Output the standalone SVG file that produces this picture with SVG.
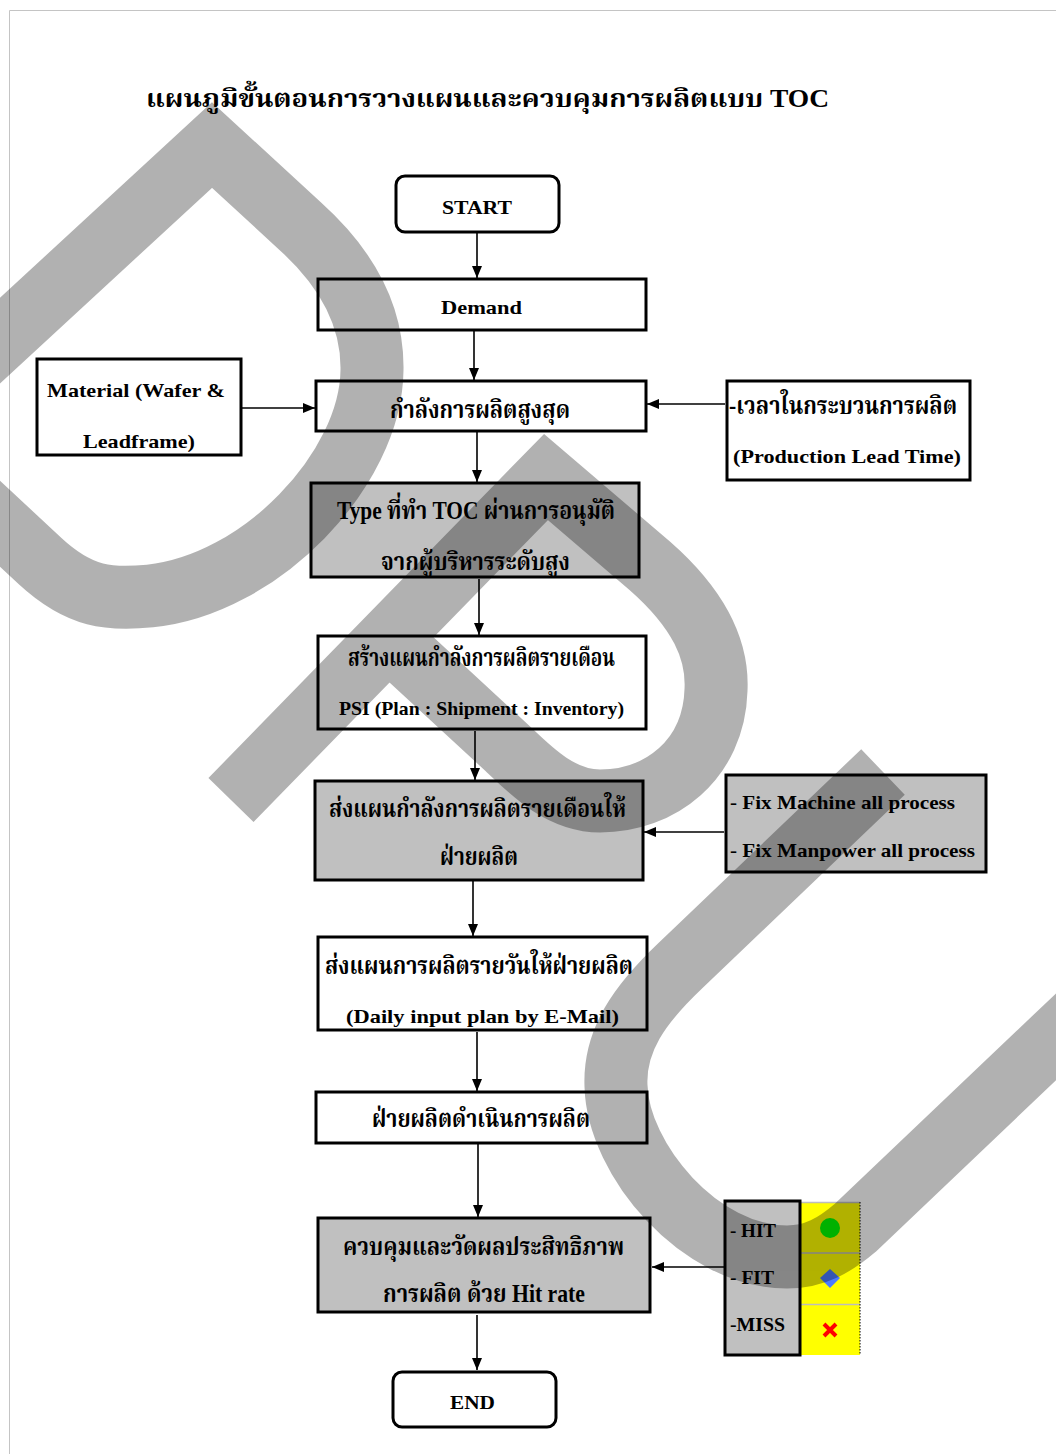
<svg xmlns="http://www.w3.org/2000/svg" width="1056" height="1454" viewBox="0 0 1056 1454">
<style>
.box{fill:#fff;stroke:#000;stroke-width:3}
.gbox{fill:#c0c0c0;stroke:#000;stroke-width:3}
.conn{stroke:#000;stroke-width:1.6;fill:none}
.lt{font-family:"Liberation Serif","Times New Roman",serif;font-weight:bold;font-size:19px;fill:#000}
.th{font-family:"Liberation Serif","Noto Serif Thai","Noto Sans Thai",serif;font-weight:bold;font-size:25px;fill:#000}
.wm{fill:none;stroke:#000;stroke-width:63;stroke-linejoin:miter;stroke-miterlimit:10}
</style>
<defs>
<marker id="ah" viewBox="0 0 12 10" refX="12" refY="5" markerWidth="12" markerHeight="10" markerUnits="userSpaceOnUse" orient="auto">
<path d="M0,0 L12,5 L0,10 z" fill="#000"/>
</marker>
</defs>
<rect x="0" y="0" width="1056" height="1454" fill="#fff"/>
<path d="M9.5,1454 V10.5 H1056" fill="none" stroke="#c4c4c4" stroke-width="1"/>

<text id="title" class="th" x="146" y="107" font-size="31" textLength="683" lengthAdjust="spacingAndGlyphs">แผนภูมิขั้นตอนการวางแผนและควบคุมการผลิตแบบ TOC</text>

<g id="connectors">
<line class="conn" x1="477" y1="233" x2="477" y2="278" marker-end="url(#ah)"/>
<line class="conn" x1="474" y1="331" x2="474" y2="380" marker-end="url(#ah)"/>
<line class="conn" x1="242" y1="408" x2="315" y2="408" marker-end="url(#ah)"/>
<line class="conn" x1="725" y1="404" x2="647" y2="404" marker-end="url(#ah)"/>
<line class="conn" x1="477" y1="432" x2="477" y2="482" marker-end="url(#ah)"/>
<line class="conn" x1="479" y1="579" x2="479" y2="635" marker-end="url(#ah)"/>
<line class="conn" x1="475" y1="731" x2="475" y2="780" marker-end="url(#ah)"/>
<line class="conn" x1="724" y1="832" x2="644" y2="832" marker-end="url(#ah)"/>
<line class="conn" x1="473" y1="881" x2="473" y2="936" marker-end="url(#ah)"/>
<line class="conn" x1="477" y1="1032" x2="477" y2="1091" marker-end="url(#ah)"/>
<line class="conn" x1="478" y1="1144" x2="478" y2="1217" marker-end="url(#ah)"/>
<line class="conn" x1="740" y1="1267" x2="652" y2="1267" marker-end="url(#ah)"/>
<line class="conn" x1="477" y1="1315" x2="477" y2="1370" marker-end="url(#ah)"/>
</g>

<g id="start">
<rect class="box" x="396" y="176" width="163" height="56" rx="9"/>
<text class="lt" x="442" y="214" textLength="70" lengthAdjust="spacingAndGlyphs">START</text>
</g>
<g id="demand">
<rect class="box" x="318" y="279" width="328" height="51"/>
<text class="lt" x="441" y="314" textLength="81" lengthAdjust="spacingAndGlyphs">Demand</text>
</g>
<g id="material">
<rect class="box" x="37" y="359" width="204" height="96"/>
<text class="lt" x="47" y="397" textLength="178" lengthAdjust="spacingAndGlyphs">Material (Wafer &amp;</text>
<text class="lt" x="83" y="448" textLength="112" lengthAdjust="spacingAndGlyphs">Leadframe)</text>
</g>
<g id="max-capacity">
<rect class="box" x="316" y="381" width="330" height="50"/>
<text class="th" x="390" y="418" textLength="180" lengthAdjust="spacingAndGlyphs">กำลังการผลิตสูงสุด</text>
</g>
<g id="lead-time">
<rect class="box" x="727" y="381" width="243" height="99"/>
<text class="th" x="729" y="414" textLength="228" lengthAdjust="spacingAndGlyphs">-เวลาในกระบวนการผลิต</text>
<text class="lt" x="733" y="463" textLength="228" lengthAdjust="spacingAndGlyphs">(Production Lead Time)</text>
</g>
<g id="type-approved">
<rect class="gbox" x="311" y="483" width="328" height="94"/>
<text class="th" x="337" y="519" textLength="278" lengthAdjust="spacingAndGlyphs">Type ที่ทำ TOC ผ่านการอนุมัติ</text>
<text class="th" x="381" y="570" textLength="189" lengthAdjust="spacingAndGlyphs">จากผู้บริหารระดับสูง</text>
</g>
<g id="monthly-plan">
<rect class="box" x="318" y="636" width="328" height="93"/>
<text class="th" x="348" y="666" textLength="267" lengthAdjust="spacingAndGlyphs">สร้างแผนกำลังการผลิตรายเดือน</text>
<text class="lt" x="339" y="715" font-size="17" textLength="285" lengthAdjust="spacingAndGlyphs">PSI (Plan : Shipment : Inventory)</text>
</g>
<g id="send-monthly">
<rect class="gbox" x="315" y="781" width="328" height="99"/>
<text class="th" x="329" y="817" textLength="297" lengthAdjust="spacingAndGlyphs">ส่งแผนกำลังการผลิตรายเดือนให้</text>
<text class="th" x="440" y="865" textLength="78" lengthAdjust="spacingAndGlyphs">ฝ่ายผลิต</text>
</g>
<g id="fix">
<rect class="gbox" x="726" y="775" width="260" height="97"/>
<text class="lt" x="730" y="809" textLength="225" lengthAdjust="spacingAndGlyphs">- Fix Machine all process</text>
<text class="lt" x="730" y="857" textLength="245" lengthAdjust="spacingAndGlyphs">- Fix Manpower all process</text>
</g>
<g id="daily-plan">
<rect class="box" x="318" y="937" width="329" height="93"/>
<text class="th" x="325" y="974" textLength="308" lengthAdjust="spacingAndGlyphs">ส่งแผนการผลิตรายวันให้ฝ่ายผลิต</text>
<text class="lt" x="346" y="1023" textLength="273" lengthAdjust="spacingAndGlyphs">(Daily input plan by E-Mail)</text>
</g>
<g id="produce">
<rect class="box" x="316" y="1092" width="331" height="51"/>
<text class="th" x="372" y="1127" textLength="218" lengthAdjust="spacingAndGlyphs">ฝ่ายผลิตดำเนินการผลิต</text>
</g>
<g id="control">
<rect class="gbox" x="318" y="1218" width="332" height="94"/>
<text class="th" x="343" y="1255" textLength="281" lengthAdjust="spacingAndGlyphs">ควบคุมและวัดผลประสิทธิภาพ</text>
<text class="th" x="383" y="1302" textLength="202" lengthAdjust="spacingAndGlyphs">การผลิต ด้วย Hit rate</text>
</g>
<g id="hit-rate">
<rect x="800" y="1202" width="60" height="153" fill="#ffff00"/>
<path d="M800,1202.5 H860 M800,1253 H860 M800,1304.5 H860" stroke="#bdbdbd" stroke-width="1.5" fill="none"/>
<path d="M860,1202 V1355" stroke="#000" stroke-width="1" stroke-dasharray="1.5,1.5" fill="none"/>
<rect class="gbox" x="725" y="1201" width="75" height="154"/>
<text class="lt" x="730" y="1237" textLength="46" lengthAdjust="spacingAndGlyphs">- HIT</text>
<text class="lt" x="730" y="1284" textLength="44" lengthAdjust="spacingAndGlyphs">- FIT</text>
<text class="lt" x="730" y="1331" textLength="55" lengthAdjust="spacingAndGlyphs">-MISS</text>
<circle cx="830" cy="1228" r="10" fill="#00ff00"/>
<path d="M830,1269 L840,1278 L830,1288 L820,1278 z" fill="#4b7bff"/>
<path d="M824,1324 L836,1336 M836,1324 L824,1336" stroke="#ff0000" stroke-width="4" fill="none"/>
</g>
<g id="end">
<rect class="box" x="393" y="1372" width="163" height="55" rx="9"/>
<text class="lt" x="450" y="1409" textLength="45" lengthAdjust="spacingAndGlyphs">END</text>
</g>

<g id="watermark" opacity="0.3">
<path class="wm" d="M-60,468 L40,561 C80,598 110,600 150,596 C260,585 371,470 372,370 C373,310 340,262 300,226 L212,145 L-60,396"/>
<path class="wm" stroke-linecap="butt" d="M231,800 L546,477 L650,566 C700,610 718,650 716,690 C714,760 660,801 600,801 C560,801 530,770 507,748 L390,640"/>
<path class="wm" d="M883,772 L680,966 C640,1004 614,1040 616,1086 C618,1160 700,1257 787,1257 C815,1257 835,1245 855,1228 L1120,976"/>
</g>
</svg>
